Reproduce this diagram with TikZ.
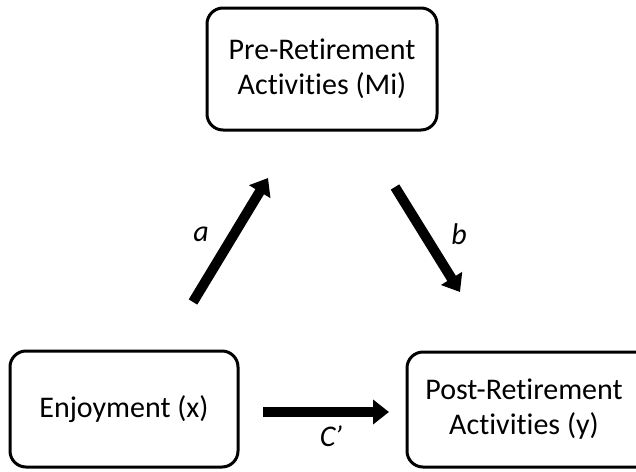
\documentclass[tikz,border=0pt]{standalone}
\usepackage{fontspec}
\setmainfont[Ligatures=NoCommon]{Carlito}
\usetikzlibrary{arrows.meta}
\begin{document}
\begin{tikzpicture}[x=1pt,y=-1pt,
  box/.style={draw, line width=3pt, rounded corners=16pt, align=center,
    font=\fontsize{30}{35}\selectfont, inner sep=0pt},
  fat/.style={line width=10pt, -{Triangle[length=16pt,width=24pt]}},
  ital/.style={font=\fontsize{30}{35}\selectfont\itshape, inner sep=0pt}]
\useasboundingbox (0,0) rectangle (636,471);
\node[box, minimum width=230pt, minimum height=122pt] (pre) at (322,69) {Pre-Retirement\\Activities (Mi)};
\node[box, minimum width=228pt, minimum height=116pt] (enj) at (124,409) {Enjoyment (x)};
\node[box, minimum width=250pt, minimum height=115pt] (post) at (532,409.5) {};
\node[align=center, font=\fontsize{30}{35}\selectfont, inner sep=0pt] (postt) at (524,409.5) {Post-Retirement\\Activities (y)};
\coordinate (a1) at (193,302);
\coordinate (a2) at (268,178);
\coordinate (b1) at (395,187);
\coordinate (b2) at (460,292);
\coordinate (c1) at (263,412);
\coordinate (c2) at (389,412);
\draw[fat] (a1) -- (a2);
\draw[fat] (b1) -- (b2);
\draw[fat] (c1) -- (c2);
\node[ital] (la) at (201,234) {a};
\node[ital] (lb) at (459,234) {b};
\node[ital] (lc) at (331,436) {C\kern-1pt’};
\end{tikzpicture}
\end{document}
